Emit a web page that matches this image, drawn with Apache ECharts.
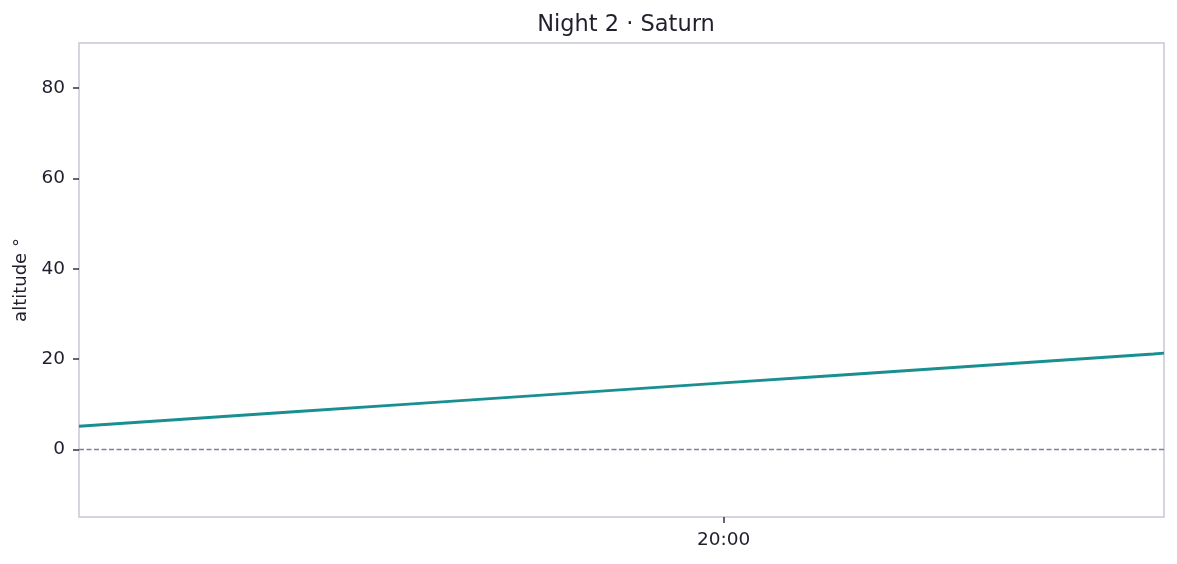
<!DOCTYPE html>
<html>
<head>
<meta charset="utf-8">
<script src="https://cdn.jsdelivr.net/npm/echarts@6/dist/echarts.min.js"></script>
<style>
html,body{margin:0;padding:0;background:#fff;}
#chart{width:1177px;height:564px;}
</style>
</head>
<body>
<div id="chart"></div>
<script>
// Times (HH:MM) and Saturn altitude (degrees)
const times = ["19:00","19:10","19:20","19:30","19:40","19:50","20:00","20:10","20:20","20:30","20:40","20:41"];
const altitude = [5.1, 6.7, 8.3, 9.9, 11.5, 13.1, 14.7, 16.3, 17.9, 19.5, 21.1, 21.3];
const xTickLabels = ["20:00"];
const yTickValues = [0, 20, 40, 60, 80];
const xRange = ["19:00", "20:41"];
const yRange = [-15, 90];
const horizonAltitude = 0;

function toMin(s){ const p = s.split(":"); return (+p[0])*60 + (+p[1]); }
function fmt(m){ const h = Math.floor(m/60), mm = Math.round(m - h*60); return String(h).padStart(2,"0")+":"+String(mm).padStart(2,"0"); }

const seriesData = times.map((t,i)=>[toMin(t), altitude[i]]);
const textColor = "#1f1f2e";
const tickColor = "#333344";
const frameColor = "#c6c7d4";
const fontFamily = "DejaVu Sans, sans-serif";

const chart = echarts.init(document.getElementById("chart"), null, {renderer:"canvas"});
chart.setOption({
  animation:false,
  backgroundColor:"#ffffff",
  title:{
    text:"Night 2 · Saturn",
    left:621,
    textAlign:"center",
    top:9,
    textStyle:{fontFamily:fontFamily, fontSize:22.5, fontWeight:"normal", color:textColor}
  },
  grid:{left:79, right:13, top:43, bottom:47, show:true, borderColor:frameColor, borderWidth:1.5, backgroundColor:"transparent"},
  xAxis:{
    type:"value",
    min:toMin(xRange[0]),
    max:toMin(xRange[1]),
    axisLine:{show:false, onZero:false},
    splitLine:{show:false},
    axisTick:{show:true, customValues:xTickLabels.map(toMin), length:6, inside:false, lineStyle:{color:tickColor, width:1.5}},
    axisLabel:{customValues:xTickLabels.map(toMin), formatter:v=>fmt(v), margin:14, fontFamily:fontFamily, fontSize:18.5, color:textColor}
  },
  yAxis:{
    type:"value",
    min:yRange[0],
    max:yRange[1],
    name:"altitude °",
    nameLocation:"middle",
    nameGap:45,
    nameRotate:90,
    nameTextStyle:{fontFamily:fontFamily, fontSize:18, color:textColor},
    axisLine:{show:false, onZero:false},
    splitLine:{show:false},
    axisTick:{show:true, customValues:yTickValues, length:6, lineStyle:{color:tickColor, width:1.5}},
    axisLabel:{customValues:yTickValues, margin:14, fontFamily:fontFamily, fontSize:18.5, color:textColor}
  },
  series:[{
    type:"line",
    data:seriesData,
    showSymbol:false,
    symbol:"none",
    lineStyle:{color:"#1a8f91", width:2.9},
    markLine:{
      silent:true,
      symbol:["none","none"],
      label:{show:false},
      lineStyle:{color:"#80809a", type:[5,2.5], width:1.3},
      data:[{yAxis:horizonAltitude}]
    }
  }]
});
</script>
</body>
</html>
